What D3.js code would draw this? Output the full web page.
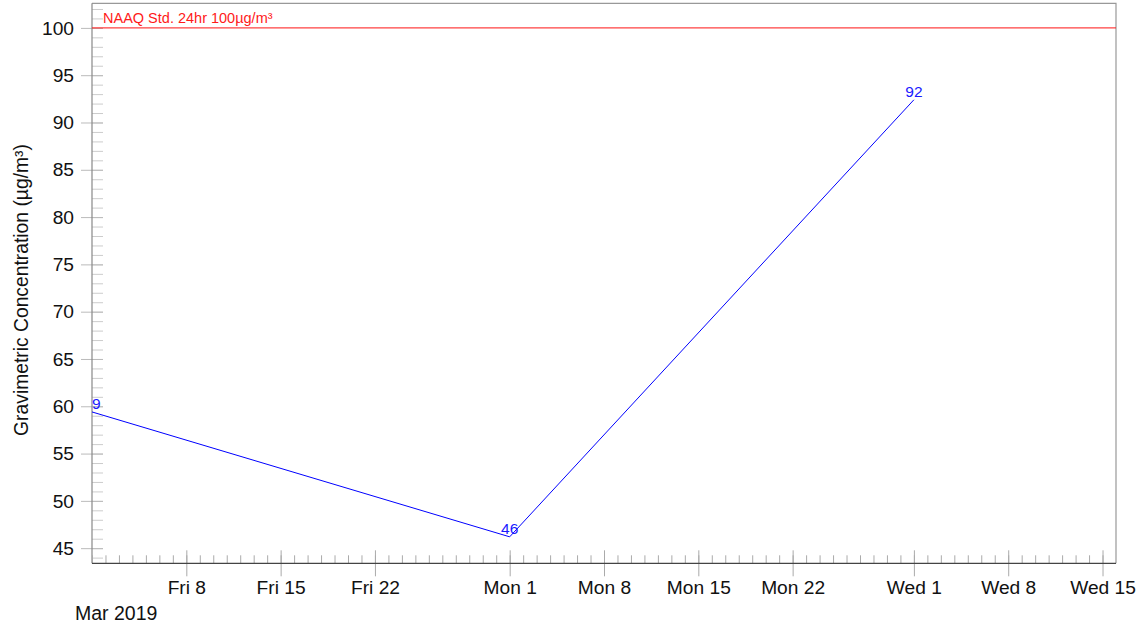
<!DOCTYPE html>
<html>
<head>
<meta charset="utf-8">
<script src="https://cdn.jsdelivr.net/npm/d3@7"></script>
<style>
  html, body { margin: 0; padding: 0; background: #fff; }
  svg { display: block; font-family: "Liberation Sans", Arial, Helvetica, sans-serif; }
</style>
</head>
<body>
<svg id="chart" width="1147" height="627"></svg>
<script>
// ---- data ----
const sampleDates = ["2019-03-01", "2019-04-01", "2019-05-01"];
const sampleValues = [59.4, 46.2, 92.4];
const xTickDates = ["2019-03-08", "2019-03-15", "2019-03-22", "2019-04-01", "2019-04-08",
                    "2019-04-15", "2019-04-22", "2019-05-01", "2019-05-08", "2019-05-15"];
const xTickLabels = ["Fri 8", "Fri 15", "Fri 22", "Mon 1", "Mon 8", "Mon 15", "Mon 22",
                     "Wed 1", "Wed 8", "Wed 15"];
const yTicks = [45, 50, 55, 60, 65, 70, 75, 80, 85, 90, 95, 100];
const xDomain = ["2019-03-01", "2019-05-16"];
const yDomain = [43.4, 102.6];
const standardValue = 100;
const standardLabel = "NAAQ Std. 24hr 100µg/m³";
const yTitle = "Gravimetric Concentration (µg/m³)";
const startLabel = "Mar 2019";

// ---- layout ----
const L = 92, R = 1116, T = 3.3, B = 563.3;
const FONT = "Liberation Sans, Arial, Helvetica, sans-serif";
const parse = s => new Date(s + "T00:00:00Z");
const svg = d3.select("#chart");

const x = d3.scaleUtc().domain(xDomain.map(parse)).range([L, R]);
const y = d3.scaleLinear().domain(yDomain).range([B, T]);

svg.append("defs").append("clipPath").attr("id", "plotclip")
  .append("rect").attr("x", L).attr("y", T).attr("width", R - L).attr("height", B - T);

// frame (top, right)
svg.append("path")
  .attr("d", `M${L},${T}H${R}V${B}`)
  .attr("fill", "none").attr("stroke", "#999").attr("stroke-width", 1.2);

// ---- y axis ----
const yMinor = d3.range(Math.ceil(yDomain[0]), Math.floor(yDomain[1]) + 1);
const yMinorAxis = d3.axisRight(y).tickValues(yMinor).tickSize(11).tickFormat("");
const gyMinor = svg.append("g").attr("transform", `translate(${L},0)`).call(yMinorAxis);
gyMinor.select(".domain").remove();
gyMinor.selectAll("line").attr("stroke", "#ccc");

const yAxis = d3.axisLeft(y).tickValues(yTicks).tickSize(11).tickPadding(7);
const gy = svg.append("g").attr("transform", `translate(${L},0)`).call(yAxis);
gy.select(".domain").remove();
gy.selectAll(".tick line").attr("stroke", "#bbb").attr("x2", 11).attr("x1", -11);
gy.selectAll("text").attr("font-size", 19.2).attr("fill", "#111").attr("font-family", FONT);
svg.append("line").attr("x1", L).attr("x2", L).attr("y1", T).attr("y2", B)
  .attr("stroke", "#888").attr("stroke-width", 1.2);

// ---- x axis ----
const xMinor = d3.utcDay.range(parse(xDomain[0]), parse(xDomain[1]));
const xMinorAxis = d3.axisTop(x).tickValues(xMinor).tickSize(8).tickFormat("");
const gxMinor = svg.append("g").attr("transform", `translate(0,${B})`).call(xMinorAxis);
gxMinor.select(".domain").remove();
gxMinor.selectAll("line").attr("stroke", "#aaa");

const xAxis = d3.axisBottom(x).tickValues(xTickDates.map(parse))
  .tickFormat((d, i) => xTickLabels[i]).tickSize(13).tickPadding(4);
const gx = svg.append("g").attr("transform", `translate(0,${B})`).call(xAxis);
gx.select(".domain").remove();
gx.selectAll(".tick line").attr("stroke", "#aaa").attr("y1", -13).attr("y2", 13);
gx.selectAll("text").attr("font-size", 19.2).attr("fill", "#111").attr("font-family", FONT);
svg.append("line").attr("x1", L).attr("x2", R).attr("y1", B).attr("y2", B)
  .attr("stroke", "#444").attr("stroke-width", 1.2);

svg.append("text").attr("x", 75).attr("y", 620).attr("font-size", 19.5).attr("fill", "#111")
  .text(startLabel);

// y title
svg.append("text")
  .attr("transform", `translate(28,290) rotate(-90)`)
  .attr("text-anchor", "middle").attr("font-size", 19.3).attr("fill", "#111")
  .text(yTitle);

// ---- plot content ----
const plot = svg.append("g").attr("clip-path", "url(#plotclip)");

plot.append("line")
  .attr("x1", L).attr("x2", R).attr("y1", y(standardValue)).attr("y2", y(standardValue))
  .attr("stroke", "#ff2020").attr("stroke-opacity", 0.85).attr("stroke-width", 1.3);
plot.append("text").attr("x", L + 11).attr("y", y(standardValue) - 5.3)
  .attr("font-size", 14.5).attr("fill", "#ff1a1a").text(standardLabel);

const pts = sampleDates.map((d, i) => ({ date: parse(d), value: sampleValues[i] }));
plot.append("path").datum(pts)
  .attr("d", d3.line().x(d => x(d.date)).y(d => y(d.value)))
  .attr("fill", "none").attr("stroke", "#0000ff").attr("stroke-width", 1);

plot.selectAll(".vlab").data(pts).enter().append("text")
  .attr("class", "vlab")
  .attr("x", d => x(d.date)).attr("y", d => y(d.value) - 3)
  .attr("text-anchor", "middle").attr("font-size", 15.5).attr("fill", "#1a1aff")
  .text(d => Math.round(d.value));
</script>
</body>
</html>
